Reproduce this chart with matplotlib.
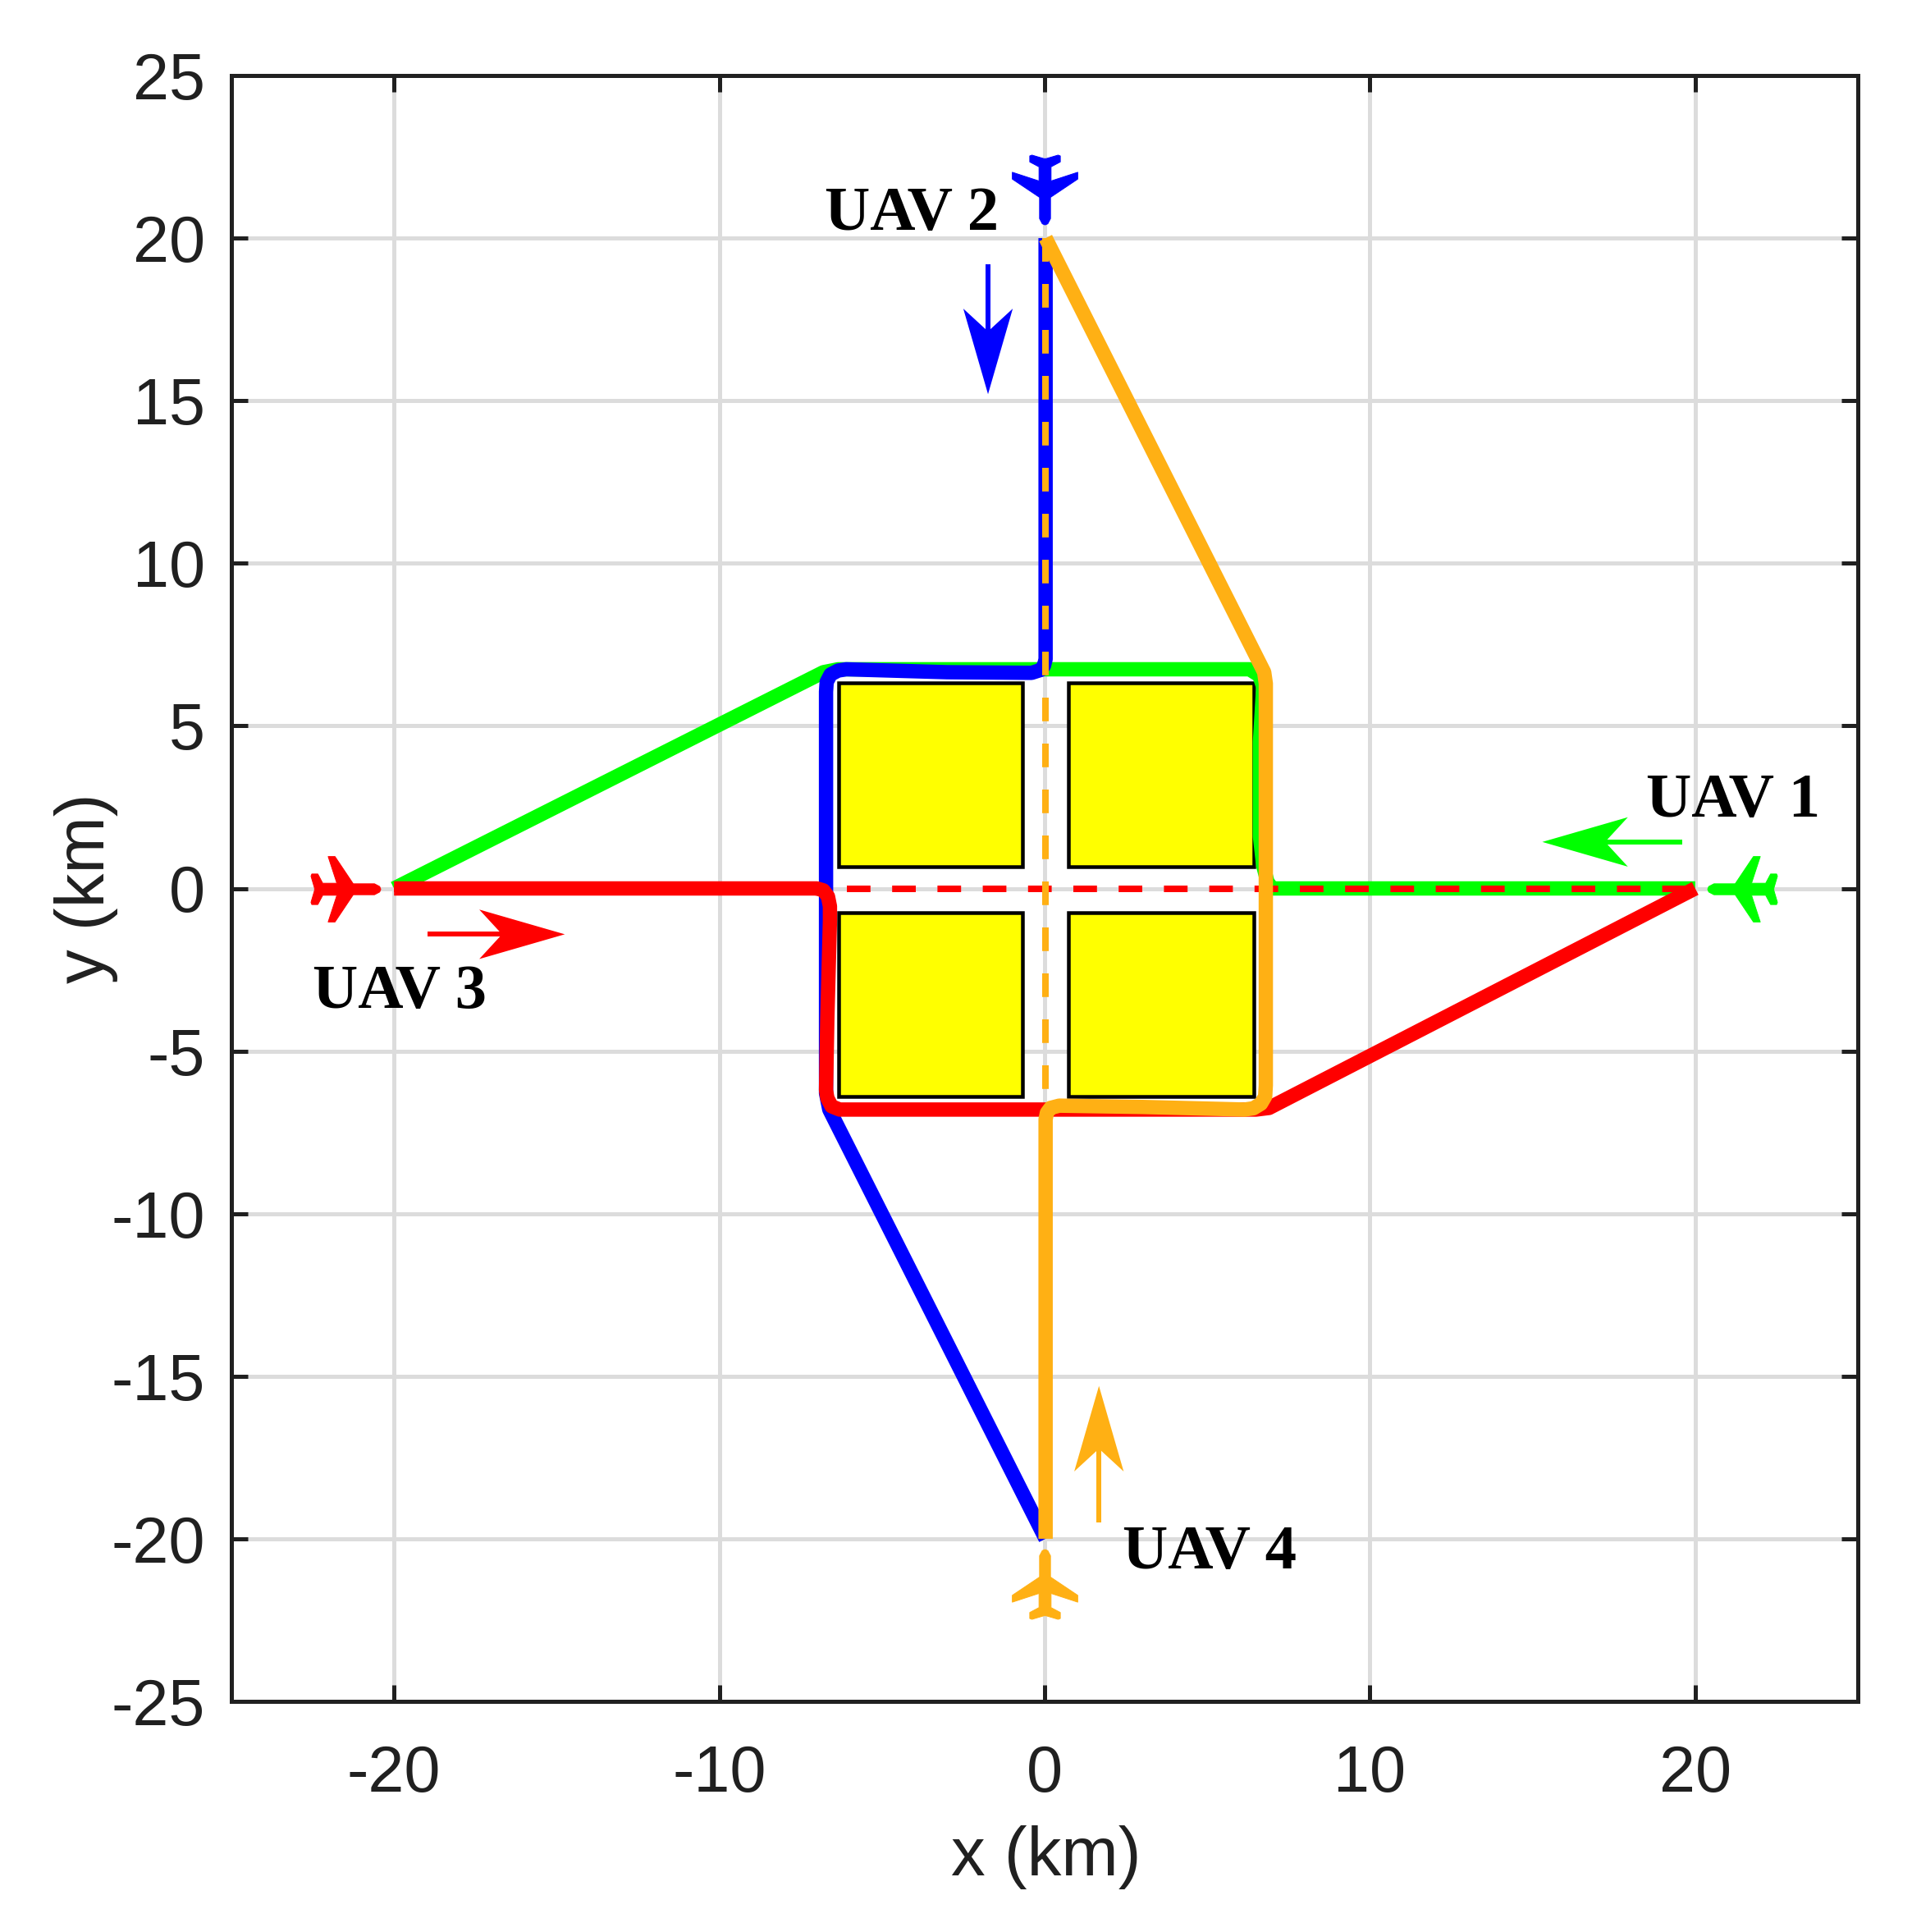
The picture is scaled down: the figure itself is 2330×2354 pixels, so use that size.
import matplotlib
matplotlib.use("Agg")
import numpy as np
import matplotlib.pyplot as plt
from matplotlib.path import Path
from matplotlib.markers import MarkerStyle
from matplotlib.patches import Rectangle, Polygon
from matplotlib.transforms import Affine2D

# ---- data ----
uav1_x = [20, 7.0, 6.85, 6.72, 6.62, 6.62, 6.72, 6.6, 6.3, -6.35, -6.8, -20]
uav1_y = [0, 0, 0.2, 0.7, 1.6, 4.5, 6.2, 6.55, 6.74, 6.74, 6.65, 0]
uav2_x = [0.03, 0.03, -0.02, -0.12, -0.4, -3, -6.1, -6.35, -6.58, -6.7, -6.72, -6.72, -6.62, 0.03]
uav2_y = [20, 7.05, 6.85, 6.72, 6.63, 6.65, 6.74, 6.7, 6.58, 6.35, 6.05, -6.3, -6.8, -20]
uav3_x = [-20, -7.0, -6.8, -6.66, -6.6, -6.6, -6.68, -6.72, -6.68, -6.55, -6.3, 6.5, 6.9, 20]
uav3_y = [0, 0, -0.06, -0.25, -0.55, -1.0, -4, -6.2, -6.45, -6.7, -6.8, -6.8, -6.75, 0]
uav4_x = [0.03, 0.03, 0.07, 0.18, 0.45, 3, 6.15, 6.42, 6.65, 6.78, 6.8, 6.8, 6.75, 0.03]
uav4_y = [-20, -7.1, -6.9, -6.75, -6.68, -6.72, -6.8, -6.76, -6.62, -6.4, -6.05, 6.3, 6.65, 20]
plan_h_x = [-20, 20]
plan_h_y = [0, 0]
plan_v_x = [0.03, 0.03]
plan_v_y = [20, -7.0]
block_x = [-6.33, 0.73, -6.33, 0.73]
block_y = [0.66, 0.66, -6.4, -6.4]
block_w = [5.66, 5.7, 5.66, 5.7]
block_h = [5.67, 5.67, 5.65, 5.65]
plane_x = [21.45, 0.0, -21.5, 0.0]
plane_y = [0.0, 21.5, 0.0, -21.4]
plane_rot = [90, 180, -90, 0]
arrow_start = [(19.6, 1.43), (-1.74, 19.2), (-18.96, -1.41), (1.67, -19.5)]
arrow_tip = [(15.3, 1.43), (-1.74, 15.2), (-14.75, -1.41), (1.67, -15.3)]
labels = ["UAV 1", "UAV 2", "UAV 3", "UAV 4"]
label_x = [18.5, -6.75, -22.5, 2.4]
label_y = [2.2, 20.25, -3.67, -20.9]
colors = ["#00ff00", "#0000ff", "#ff0000", "#ffb014"]
x_ticks = [-20, -10, 0, 10, 20]
y_ticks = [-25, -20, -15, -10, -5, 0, 5, 10, 15, 20, 25]

DPI = 300
W, H = 2330, 2354
px = 72 / DPI
INK = "#202020"
plt.rcParams["font.family"] = ["Liberation Sans", "DejaVu Sans"]
plt.rcParams["axes.unicode_minus"] = False

fig = plt.figure(figsize=(W / DPI, H / DPI), dpi=DPI)
L, R, T, B = 282, 2264, 92, 2073
ax = fig.add_axes([L / W, 1 - B / H, (R - L) / W, (B - T) / H])
ax.set_xlim(-25, 25)
ax.set_ylim(-25, 25)
ax.set_xticks(x_ticks)
ax.set_yticks(y_ticks)
ax.set_axisbelow(True)
ax.grid(True, color="#dcdcdc", lw=5 * px)
ax.tick_params(direction="in", top=True, right=True, length=20 * px, width=5 * px,
               labelsize=19, colors=INK)
ax.tick_params(axis="x", pad=52 * px)
ax.tick_params(axis="y", pad=32 * px)
for s in ax.spines.values():
    s.set_linewidth(5 * px)
    s.set_color(INK)
ax.set_xlabel("x (km)", fontsize=20, color=INK, va="center")
ax.set_ylabel("y (km)", fontsize=20, color=INK, va="center")
ax.xaxis.set_label_coords(0.501, -0.096)
ax.yaxis.set_label_coords(-0.0893, 0.5)

for x0, y0, w, h in zip(block_x, block_y, block_w, block_h):
    ax.add_patch(Rectangle((x0, y0), w, h, fc="#ffff00", ec="black", lw=4.5 * px, zorder=2))

LW = 17.5 * px
ax.plot(uav1_x, uav1_y, color=colors[0], lw=LW, solid_joinstyle="round", solid_capstyle="butt", zorder=3)
ax.plot(plan_h_x, plan_h_y, color=colors[2], lw=8 * px, dash_capstyle="butt",
        linestyle=(0, (3.6, 3.3)), zorder=3.2)
ax.plot(uav2_x, uav2_y, color=colors[1], lw=LW, solid_joinstyle="round", solid_capstyle="butt", zorder=3.4)
ax.plot(uav3_x, uav3_y, color=colors[2], lw=LW, solid_joinstyle="round", solid_capstyle="butt", zorder=3.6)
ax.plot(uav4_x, uav4_y, color=colors[3], lw=LW, solid_joinstyle="round", solid_capstyle="butt", zorder=3.8)
ax.plot(plan_v_x, plan_v_y, color=colors[3], lw=8 * px, dash_capstyle="butt",
        linestyle=(0, (3.6, 3.4)), zorder=3.9)

# plane silhouette (nose up)
half = [(0, 128), (-10, 124), (-20, 105), (-20, 27), (-120, -40), (-120, -65), (-22, -33),
        (-22, -85), (-56, -103), (-56, -125), (-48, -128), (-4, -115)]
verts = half + [(-a, b) for a, b in reversed(half[1:])] + [half[0]]
codes = [Path.MOVETO] + [Path.LINETO] * (len(verts) - 2) + [Path.CLOSEPOLY]
plane = Path(verts, codes)
for x, y, r, c in zip(plane_x, plane_y, plane_rot, colors):
    ax.plot([x], [y], linestyle="none",
            marker=MarkerStyle(plane, transform=Affine2D().rotate_deg(r)),
            ms=85 * px, mfc=c, mec=c, mew=1 * px, zorder=4, clip_on=False)

# direction arrows
HL, NOTCH, HW = 2.63, 1.93, 0.76
for (x0, y0), (x1, y1), c in zip(arrow_start, arrow_tip, colors):
    d = np.array([x1 - x0, y1 - y0], float)
    d /= np.hypot(*d)
    n = np.array([-d[1], d[0]])
    tip = np.array([x1, y1], float)
    ax.plot([x0, x1 - NOTCH * d[0]], [y0, y1 - NOTCH * d[1]], color=c, lw=6 * px,
            solid_capstyle="butt", zorder=4)
    ax.add_patch(Polygon([tip, tip - HL * d + HW * n, tip - NOTCH * d, tip - HL * d - HW * n],
                         closed=True, fc=c, ec="none", zorder=4))

for t, x, y in zip(labels, label_x, label_y):
    ax.text(x, y, t, family=["Liberation Serif"], weight="bold", fontsize=18.4, color="black",
            ha="left", va="baseline", zorder=5)

fig.savefig("out.png", dpi=DPI, facecolor="white")
